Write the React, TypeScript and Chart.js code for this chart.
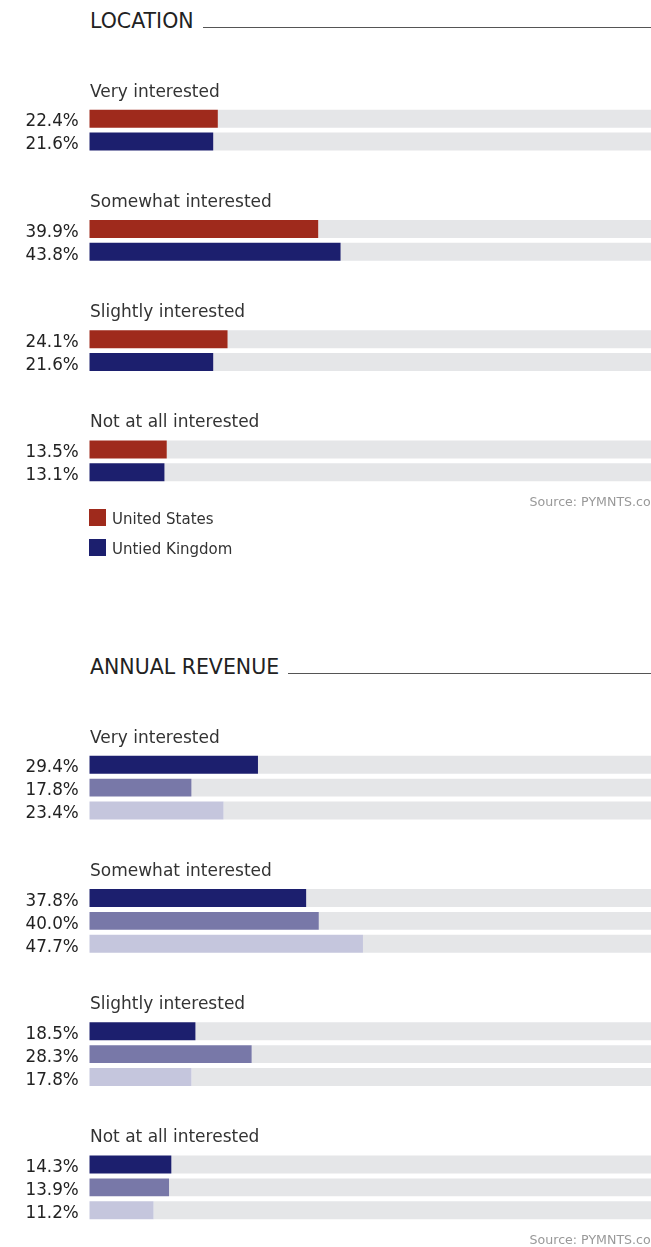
import React, { useEffect, useRef } from "react";
import { Chart, registerables } from "chart.js";

Chart.register(...registerables);

// ---------- DATA ----------
const CATEGORIES = ["Very interested", "Somewhat interested", "Slightly interested", "Not at all interested"];

const LOCATION_TITLE = "LOCATION";
const LOC_US_LABEL = "United States";
const LOC_UK_LABEL = "Untied Kingdom";
const LOC_US = [22.4, 39.9, 24.1, 13.5];
const LOC_UK = [21.6, 43.8, 21.6, 13.1];

const REVENUE_TITLE = "ANNUAL REVENUE";
const REV_TIER_1 = [29.4, 37.8, 18.5, 14.3];
const REV_TIER_2 = [17.8, 40.0, 28.3, 13.9];
const REV_TIER_3 = [23.4, 47.7, 17.8, 11.2];

const SOURCE_TEXT = "Source: PYMNTS.com";

// ---------- STYLE ----------
const FONT = "'DejaVu Sans', sans-serif";
const RED = "#9f2a1c";
const NAVY = "#1c1f6e";
const MID = "#7878a8";
const LIGHT = "#c5c6dd";
const TRACK = "#e5e6e8";

const PLOT_LEFT = 89.3;
const PLOT_RIGHT = 663;
const CANVAS_W = 670;
const BAR_H = 18;
const BAR_SLOT = 23;
const GROUP_EXTRA = 69.33;
const CANVAS_TOP = 75;

type Series = { label: string; color: string; values: number[] };

function BarSection(props: { title: string; categories: string[]; series: Series[]; showLegend: boolean; top: number; height: number }) {
  const { title, categories, series, showLegend, top, height } = props;
  const ref = useRef<HTMLCanvasElement | null>(null);
  const S = series.length;
  const G = categories.length;
  const pitch = S * BAR_SLOT - (BAR_SLOT - BAR_H) + GROUP_EXTRA;
  const H = Math.round(G * pitch);

  useEffect(() => {
    if (!ref.current) return;
    const datasets: any[] = [];
    series.forEach((s, k) => {
      datasets.push({
        label: s.label,
        data: s.values,
        backgroundColor: s.color,
        stack: "s" + k,
        borderWidth: 0,
      });
      datasets.push({
        label: s.label + " (rest)",
        data: s.values.map((v) => 100 - v),
        backgroundColor: TRACK,
        stack: "s" + k,
        borderWidth: 0,
      });
    });

    const labelsPlugin = {
      id: "rowLabels",
      afterDatasetsDraw(chart: any) {
        const ctx = chart.ctx;
        const area = chart.chartArea;
        ctx.save();
        // value labels
        ctx.font = `16.8px ${FONT}`;
        ctx.fillStyle = "#222";
        ctx.textAlign = "right";
        ctx.textBaseline = "middle";
        series.forEach((s, k) => {
          const meta = chart.getDatasetMeta(2 * k);
          meta.data.forEach((el: any, i: number) => {
            ctx.fillText(s.values[i].toFixed(1) + "%", area.left - 10.5, el.y + 3.5);
          });
        });
        // category labels
        ctx.font = `17px ${FONT}`;
        ctx.fillStyle = "#333";
        ctx.textAlign = "left";
        const meta0 = chart.getDatasetMeta(0);
        meta0.data.forEach((el: any, i: number) => {
          const barTop = el.y - el.height / 2;
          ctx.fillText(categories[i], area.left + 0.7, barTop - 17.5);
        });
        ctx.restore();
      },
    };

    const chart = new Chart(ref.current, {
      type: "bar",
      data: { labels: categories, datasets },
      options: {
        indexAxis: "y",
        animation: false,
        responsive: false,
        maintainAspectRatio: false,
        events: [],
        layout: { padding: { left: PLOT_LEFT, right: CANVAS_W - PLOT_RIGHT, top: 0, bottom: 0 } },
        barPercentage: BAR_H / BAR_SLOT,
        categoryPercentage: (S * BAR_SLOT) / pitch,
        scales: {
          x: { display: false, min: 0, max: 100, stacked: true },
          y: { display: false },
        },
        plugins: { legend: { display: false }, tooltip: { enabled: false } },
      } as any,
      plugins: [labelsPlugin],
    });
    return () => chart.destroy();
  }, []);

  return (
    <div style={{ position: "absolute", left: 0, top, width: 651, height, overflow: "hidden" }}>
      <div
        style={{
          position: "absolute",
          left: 90,
          top: 0,
          height: 42,
          width: PLOT_RIGHT - 90,
          display: "flex",
          alignItems: "center",
        }}
      >
        <span style={{ fontSize: 20.5, color: "#222", whiteSpace: "nowrap", fontFamily: FONT }}>{title}</span>
        <div style={{ flex: 1, height: 1, background: "#555", marginLeft: 9, marginTop: 13 }} />
      </div>
      <canvas
        ref={ref}
        width={CANVAS_W}
        height={H}
        style={{ position: "absolute", left: 0, top: CANVAS_TOP, width: CANVAS_W, height: H }}
      />
      <div
        style={{
          position: "absolute",
          left: 0,
          width: PLOT_RIGHT,
          top: CANVAS_TOP + H - 13.7 - 7,
          height: 14,
          lineHeight: "14px",
          textAlign: "right",
          fontSize: 12.6,
          color: "#999",
          fontFamily: FONT,
          whiteSpace: "nowrap",
        }}
      >
        {SOURCE_TEXT}
      </div>
      {showLegend &&
        series.map((s, k) => (
          <div
            key={k}
            style={{
              position: "absolute",
              left: 89,
              top: CANVAS_TOP + H - 6.7 + k * 30,
              height: 17,
              display: "flex",
              alignItems: "center",
              fontFamily: FONT,
              fontSize: 15,
              color: "#333",
              whiteSpace: "nowrap",
            }}
          >
            <div style={{ width: 17, height: 17, background: s.color, marginRight: 6 }} />
            <span style={{ marginTop: 3 }}>{s.label}</span>
          </div>
        ))}
    </div>
  );
}

export default function App() {
  const locSeries: Series[] = [
    { label: LOC_US_LABEL, color: RED, values: LOC_US },
    { label: LOC_UK_LABEL, color: NAVY, values: LOC_UK },
  ];
  const revSeries: Series[] = [
    { label: "Revenue tier 1", color: NAVY, values: REV_TIER_1 },
    { label: "Revenue tier 2", color: MID, values: REV_TIER_2 },
    { label: "Revenue tier 3", color: LIGHT, values: REV_TIER_3 },
  ];
  return (
    <div
      style={{
        position: "absolute",
        left: 0,
        top: 0,
        width: 651,
        height: 1247,
        overflow: "hidden",
        background: "#fff",
        fontFamily: FONT,
      }}
    >
      <BarSection title={LOCATION_TITLE} categories={CATEGORIES} series={locSeries} showLegend={true} top={0} height={646} />
      <BarSection title={REVENUE_TITLE} categories={CATEGORIES} series={revSeries} showLegend={false} top={646} height={601} />
    </div>
  );
}
